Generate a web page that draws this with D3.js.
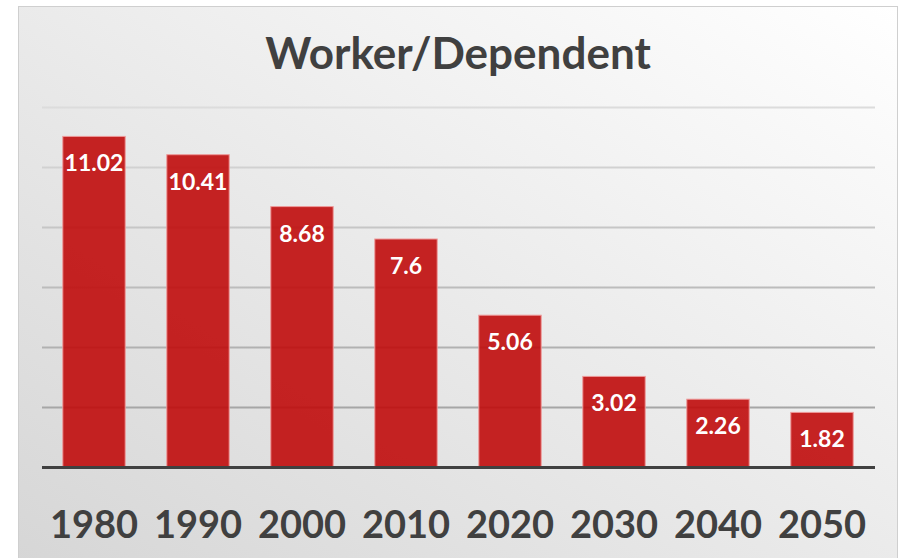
<!DOCTYPE html>
<html>
<head>
<meta charset="utf-8">
<script src="https://cdn.jsdelivr.net/npm/d3@7"></script>
<style>
  body { margin: 0; background: #fff; }
  svg { display: block; font-family: Lato, "Open Sans", sans-serif; }
</style>
</head>
<body>
<div id="chart"></div>
<script>
// chart data
var years = ["1980", "1990", "2000", "2010", "2020", "2030", "2040", "2050"];
var ratios = [11.02, 10.41, 8.68, 7.6, 5.06, 3.02, 2.26, 1.82];
var yTicks = [2, 4, 6, 8, 10, 12];

var W = 905, H = 558;

var svg = d3.select("#chart").append("svg")
  .attr("width", W)
  .attr("height", H);

// background gradient
var defs = svg.append("defs");
var grad = defs.append("linearGradient")
  .attr("id", "bg")
  .attr("x1", "1").attr("y1", "0")
  .attr("x2", "0").attr("y2", "1");
grad.append("stop").attr("offset", "0%").attr("stop-color", "#ffffff");
grad.append("stop").attr("offset", "100%").attr("stop-color", "#d6d6d6");

svg.append("rect")
  .attr("x", 18.5).attr("y", 6.5)
  .attr("width", 879).attr("height", H)
  .attr("fill", "url(#bg)")
  .attr("stroke", "#cfcfcf")
  .attr("stroke-width", 1);

// scales
var x = d3.scaleBand()
  .domain(years)
  .range([42, 874])
  .paddingInner(0.4)
  .paddingOuter(0.2);

var y = d3.scaleLinear()
  .domain([0, 12])
  .range([467, 107]);

// gridlines, darker towards the bottom
var gridColor = d3.scaleLinear().domain([12, 2]).range(["#dcdcdc", "#a6a6a6"]);

svg.append("g")
  .selectAll("line")
  .data(yTicks)
  .enter()
  .append("line")
  .attr("x1", 42)
  .attr("x2", 875)
  .attr("y1", function(d) { return Math.round(y(d)) + 0.5; })
  .attr("y2", function(d) { return Math.round(y(d)) + 0.5; })
  .attr("stroke", function(d) { return gridColor(d); })
  .attr("stroke-width", 2);

// bars
svg.append("g")
  .selectAll("rect")
  .data(ratios)
  .enter()
  .append("rect")
  .attr("x", function(d, i) { return x(years[i]); })
  .attr("y", function(d) { return y(d); })
  .attr("width", x.bandwidth())
  .attr("height", function(d) { return y(0) - y(d); })
  .attr("fill", "#c00c0c")
  .attr("fill-opacity", 0.9)
  .attr("stroke", "#ee9a9a")
  .attr("stroke-width", 1);

// value labels
svg.append("g")
  .selectAll("text")
  .data(ratios)
  .enter()
  .append("text")
  .attr("x", function(d, i) { return x(years[i]) + x.bandwidth() / 2; })
  .attr("y", function(d) { return y(d) + 35; })
  .attr("text-anchor", "middle")
  .attr("fill", "#ffffff")
  .style("font-size", "23px")
  .style("font-weight", "bold")
  .text(function(d) { return d; });

// baseline
svg.append("line")
  .attr("x1", 42)
  .attr("x2", 875)
  .attr("y1", y(0) + 0.5)
  .attr("y2", y(0) + 0.5)
  .attr("stroke", "#404040")
  .attr("stroke-width", 3);

// x labels
var xAxis = d3.axisBottom(x).tickSize(0).tickPadding(0);
var xg = svg.append("g")
  .attr("transform", "translate(0," + (y(0)) + ")")
  .call(xAxis);
xg.select(".domain").remove();
xg.selectAll("text")
  .attr("dy", 0)
  .attr("y", 71)
  .attr("fill", "#404040")
  .style("font-family", "Lato, 'Open Sans', sans-serif")
  .style("font-size", "38px")
  .style("font-weight", "bold");

// title
svg.append("text")
  .attr("x", 458)
  .attr("y", 69)
  .attr("text-anchor", "middle")
  .attr("fill", "#404040")
  .style("font-size", "44px")
  .style("font-weight", "bold")
  .text("Worker/Dependent");
</script>
</body>
</html>
